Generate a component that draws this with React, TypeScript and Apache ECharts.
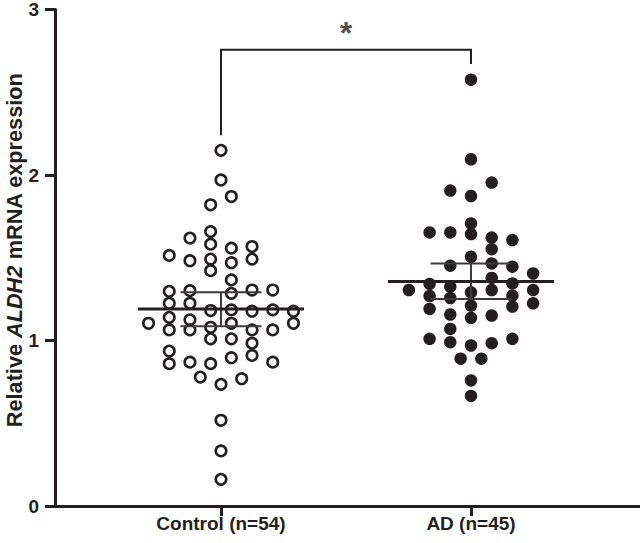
import React, { useEffect, useRef } from "react";
import * as echarts from "echarts";

// ---- data ----
const groupNames = ["Control (n=54)", "AD (n=45)"];
const groupPositions = [1, 2];

// Control: relative ALDH2 expression and beeswarm slot (in dot widths from centre)
const controlValues = [
  2.149, 1.97, 1.87, 1.82, 1.658, 1.619, 1.582, 1.558, 1.568,
  1.514, 1.482, 1.492, 1.422, 1.47, 1.492, 1.366,
  1.297, 1.301, 1.285, 1.305, 1.305, 1.225, 1.225,
  1.181, 1.185, 1.177, 1.185, 1.177,
  1.104, 1.14, 1.125, 1.104,
  1.064, 1.064, 1.08, 1.104, 1.064, 1.064,
  1.01, 1.01, 0.984,
  0.936, 0.86, 0.869, 0.86, 0.896, 0.91, 0.869,
  0.779, 0.735, 0.769, 0.518, 0.333, 0.161,
];
const controlSlots = [
  0, 0, 0.5, -0.5, -0.5, -1.5, -0.5, 0.5, 1.5,
  -2.5, -1.5, -0.5, -0.5, 0.5, 1.5, 0.5,
  -2.5, -1.5, 0.5, 1.5, 2.5, -2.5, -1.5,
  -0.5, 0.5, 1.5, 2.5, 3.5,
  -3.5, -2.5, -1.5, 3.5,
  -2.5, -1.5, -0.5, 0.5, 1.5, 2.5,
  -0.5, 0.5, 1.5,
  -2.5, -2.5, -1.5, -0.5, 0.5, 1.5, 2.5,
  -1, 0, 1, 0, 0, 0,
];

// AD
const adValues = [
  2.576, 2.095, 1.954, 1.906, 1.873, 1.707,
  1.653, 1.653, 1.643, 1.622, 1.607, 1.552, 1.506,
  1.452, 1.466, 1.446, 1.405, 1.378,
  1.305, 1.342, 1.325, 1.291, 1.305, 1.345, 1.305,
  1.269, 1.257, 1.271, 1.211, 1.225, 1.191, 1.205,
  1.157, 1.137, 1.151, 1.07,
  1.01, 0.99, 0.97, 0.984, 1.01,
  0.89, 0.89, 0.759, 0.665,
];
const adSlots = [
  0, 0, 1, -1, 0, 0,
  -2, -1, 0, 1, 2, 1, 0,
  -1, 1, 2, 3, 1,
  -3, -2, -1, 0, 1, 2, 3,
  -2, -1, 2, 0, 3, -2, 2,
  -1, 0, 1, -1,
  -2, -1, 0, 1, 2,
  -0.5, 0.5, 0, 0,
];

const groupMeans = [1.19, 1.357];
const groupCiLow = [1.086, 1.251];
const groupCiHigh = [1.291, 1.466];

const yTicks = [0, 1, 2, 3];

// significance bracket
const bracketTop = 2.757;
const bracketLegEnds = [2.24, 2.67];
const significanceLabel = "*";
const significanceLevel = 2.855;

// ---- styling ----
const INK = "#231f20";
const FONT = '"Liberation Sans", Arial, Helvetica, sans-serif';
const SLOT = 0.0828; // one dot width in x-axis units
const MEAN_HALF = 0.332;
const CAP_HALF = 0.162;

function seg(a: number[][], width: number, color: string, z = 5) {
  return {
    type: "line",
    data: a,
    symbol: "none",
    silent: true,
    animation: false,
    z,
    lineStyle: { color, width, cap: "butt", join: "miter" },
  };
}

export default function App() {
  const ref = useRef<HTMLDivElement>(null);

  useEffect(() => {
    document.body.style.margin = "0";
    if (!ref.current) return;
    const chart = echarts.init(ref.current, undefined, { renderer: "svg" });

    const controlData = controlValues.map((v, i) => [groupPositions[0] + controlSlots[i] * SLOT, v]);
    const adData = adValues.map((v, i) => [groupPositions[1] + adSlots[i] * SLOT, v]);

    const summarySeries: any[] = [];
    groupPositions.forEach((x, g) => {
      summarySeries.push(seg([[x - MEAN_HALF, groupMeans[g]], [x + MEAN_HALF, groupMeans[g]]], 3, INK, 6));
      summarySeries.push(seg([[x - CAP_HALF, groupCiHigh[g]], [x + CAP_HALF, groupCiHigh[g]]], 2, "#3c3c3c"));
      summarySeries.push(seg([[x - CAP_HALF, groupCiLow[g]], [x + CAP_HALF, groupCiLow[g]]], 2, "#3c3c3c"));
      summarySeries.push(seg([[x, groupCiLow[g]], [x, groupCiHigh[g]]], 2, "#3c3c3c"));
    });

    const option: any = {
      animation: false,
      textStyle: { fontFamily: FONT },
      grid: { left: 55, right: 0, top: 7, bottom: 37, containLabel: false },
      xAxis: {
        type: "value",
        min: 0.336,
        max: 2.676,
        splitLine: { show: false },
        axisLine: { show: true, lineStyle: { color: INK, width: 3 } },
        axisTick: {
          show: true,
          inside: false,
          length: 10,
          customValues: groupPositions,
          lineStyle: { color: INK, width: 3 },
        },
        axisLabel: {
          show: true,
          customValues: groupPositions,
          margin: 8,
          color: INK,
          fontSize: 19,
          fontWeight: "bold",
          fontFamily: FONT,
          formatter: (v: number) => {
            const i = groupPositions.indexOf(Math.round(v));
            return i >= 0 ? groupNames[i] : "";
          },
        },
      },
      yAxis: {
        type: "value",
        min: yTicks[0],
        max: yTicks[yTicks.length - 1],
        interval: 1,
        splitLine: { show: false },
        axisLine: { show: true, onZero: false, lineStyle: { color: INK, width: 3 } },
        axisTick: { show: true, inside: false, length: 10, lineStyle: { color: INK, width: 3 } },
        axisLabel: {
          margin: 16,
          color: INK,
          fontSize: 19,
          fontWeight: "bold",
          fontFamily: FONT,
        },
      },
      graphic: [
        {
          type: "text",
          x: 14,
          y: 250,
          rotation: Math.PI / 2,
          silent: true,
          style: {
            text: "{b|Relative }{i|ALDH2}{b| mRNA expression}",
            align: "center",
            verticalAlign: "middle",
            fill: INK,
            rich: {
              b: { fontSize: 21.7, fontWeight: "bold", fontFamily: FONT, fill: INK, color: INK },
              i: { fontSize: 21.7, fontWeight: "bold", fontStyle: "italic", fontFamily: FONT, fill: INK, color: INK },
            },
          },
        },
      ],
      series: [
        {
          type: "scatter",
          data: controlData,
          symbol: "circle",
          symbolSize: 10.5,
          z: 3,
          itemStyle: { color: "#ffffff", borderColor: INK, borderWidth: 2.6, opacity: 1 },
        },
        {
          type: "scatter",
          data: adData,
          symbol: "circle",
          symbolSize: 12.5,
          z: 3,
          itemStyle: { color: INK, opacity: 1 },
        },
        ...summarySeries,
        seg(
          [
            [groupPositions[0], bracketLegEnds[0]],
            [groupPositions[0], bracketTop],
            [groupPositions[1], bracketTop],
            [groupPositions[1], bracketLegEnds[1]],
          ],
          2,
          INK
        ),
        {
          type: "scatter",
          data: [[(groupPositions[0] + groupPositions[1]) / 2, significanceLevel]],
          symbolSize: 0,
          silent: true,
          label: {
            show: true,
            position: "inside",
            formatter: significanceLabel,
            fontSize: 32,
            fontWeight: "bold",
            color: INK,
            fontFamily: FONT,
          },
        },
      ],
    };

    chart.setOption(option);
    return () => chart.dispose();
  }, []);

  return <div ref={ref} style={{ width: 640, height: 543 }} />;
}
